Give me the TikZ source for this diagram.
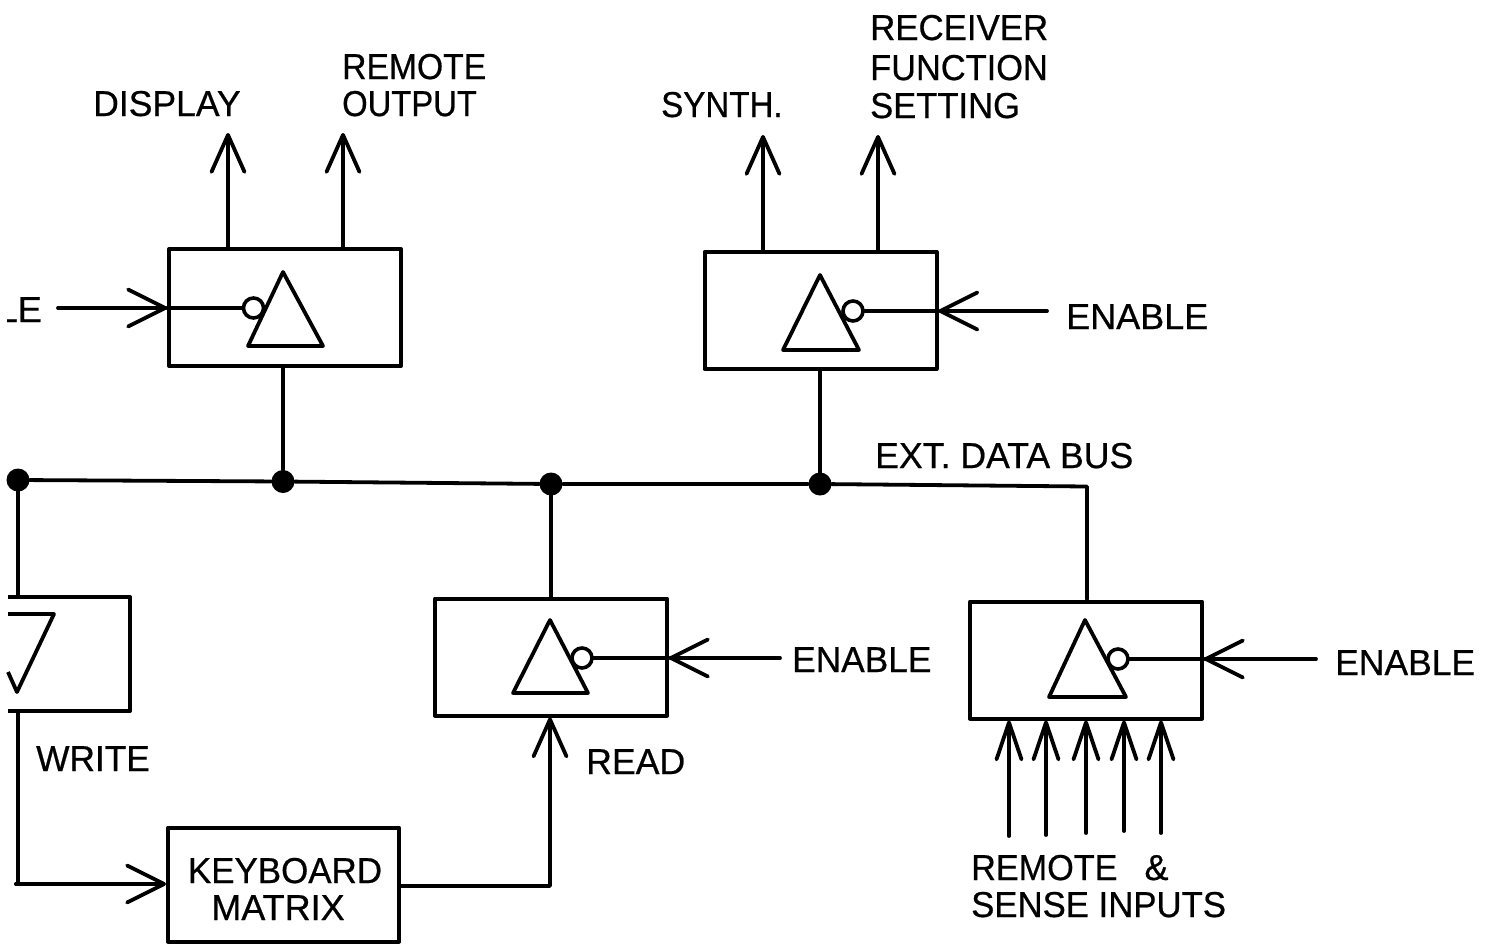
\documentclass[tikz,border=0pt]{standalone}
\usepackage{graphicx}
\usepackage{fontspec}
\setmainfont[FakeBold=0.6]{Liberation Sans}
\usetikzlibrary{arrows.meta}
\newcommand{\nw}[2]{\scalebox{#1}[1]{#2}}
\tikzset{
  x=1pt,y=-1pt,
  wire/.style={line width=3.8pt,line cap=round,line join=round},
  sig/.style={wire,-{Straight Barb[length=37pt,width=33pt,line width=3.8pt,round]}},
  sigh/.style={wire,-{Straight Barb[length=37pt,width=37pt,line width=3.8pt,round]}},
  sign/.style={wire,-{Straight Barb[length=37pt,width=25pt,line width=3.8pt,round]}},
  box/.style={draw,line width=4pt,line join=round,rectangle,inner sep=0pt,minimum width=232pt,minimum height=117pt},
  dot/.style={circle,fill=black,inner sep=0pt,minimum size=23pt},
  bubble/.style={circle,draw,line width=3.6pt,fill=white,inner sep=0pt,minimum size=20pt},
  tri/.style={line width=3.8pt,line join=round},
  lbl/.style={inner sep=0pt,anchor=base west,font=\fontsize{36}{40}\selectfont},
  clbl/.style={inner sep=0pt,anchor=base,font=\fontsize{36}{40}\selectfont}
}
\begin{document}
\begin{tikzpicture}
\useasboundingbox (0,0) rectangle (1497,943);
% boxes
\node[box] (boxA) at (285,307.5) {};
\node[box] (boxB) at (820.5,310.5) {};
\node[box] (boxC) at (551,657) {};
\node[box] (boxD) at (1086,660) {};
\node[box,minimum width=231pt,minimum height=114pt] (kbd) at (283.5,884.5) {};
\node[clbl] (kbdA) at (285,883) {\nw{.97}{KEYBOARD}};
\node[clbl] (kbdB) at (278,920) {MATRIX};
% cut-off box on the left edge
\coordinate (wTR) at (130,597);
\coordinate (wBR) at (130,711);
\draw[tri,line width=4pt] (8,597) -- (wTR) -- (wBR) -- (8,711);
\draw[tri] (8,614) -- (54,614) -- (17,692) -- (8,672);
% triangles
\draw[tri] (283,272) -- (323,346) -- (248,346) -- cycle;
\draw[tri] (820,275) -- (859,350) -- (783,350) -- cycle;
\draw[tri] (550,620) -- (588,693) -- (513,693) -- cycle;
\draw[tri] (1085,620) -- (1126,697) -- (1049,697) -- cycle;
% bubbles
\node[bubble] (bubA) at (253.5,308) {};
\node[bubble] (bubB) at (853,311) {};
\node[bubble] (bubC) at (582,658) {};
\node[bubble] (bubD) at (1118,659) {};
% bus
\node[dot] (j0) at (18,480) {};
\node[dot] (j1) at (283,481.5) {};
\node[dot] (j2) at (551,484) {};
\node[dot] (j3) at (820,484) {};
\coordinate (busEnd) at (1087,486.5);
\draw[wire] (j0) -- (j1) -- (j2) -- (j3) -- (busEnd) -- (busEnd |- boxD.north);
\coordinate (wTop) at (18,597);
\coordinate (wBot) at (18,711);
\coordinate (wCor) at (16,884);
\draw[wire] (j0) -- (wTop);
\draw[wire] (j1) -- (j1 |- boxA.south);
\draw[wire] (j2) -- (j2 |- boxC.north);
\draw[wire] (j3) -- (j3 |- boxB.south);
% outputs
\coordinate (o1) at (228,133);
\coordinate (o2) at (343,133);
\coordinate (o3) at (763,135);
\coordinate (o4) at (878,135);
\draw[sig] (o1 |- boxA.north) -- (o1);
\draw[sig] (o2 |- boxA.north) -- (o2);
\draw[sig] (o3 |- boxB.north) -- (o3);
\draw[sig] (o4 |- boxB.north) -- (o4);
% enables
\coordinate (enA) at (58,308);
\coordinate (enB) at (1047,311);
\coordinate (enC) at (780,658);
\coordinate (enD) at (1316,659);
\draw[sigh] (enA) -- (enA -| boxA.west);
\draw[wire] (enA -| boxA.west) -- (bubA);
\draw[sigh] (enB) -- (enB -| boxB.east);
\draw[wire] (enB -| boxB.east) -- (bubB);
\draw[sigh] (enC) -- (enC -| boxC.east);
\draw[wire] (enC -| boxC.east) -- (bubC);
\draw[sigh] (enD) -- (enD -| boxD.east);
\draw[wire] (enD -| boxD.east) -- (bubD);
% write / read
\draw[wire] (wBot) -- (wBot |- wCor) -- (wCor);
\draw[sigh] (wCor) -- (wCor -| kbd.west);
\coordinate (rdS) at (550,886);
\draw[sig] (rdS -| kbd.east) -- (rdS) -- (rdS |- boxC.south);
% remote inputs
\foreach \n/\x/\y in {a/1009/836,b/1046/835,c/1086/833,d/1124/831,e/1161/833}{
  \coordinate (in\n) at (\x,\y);
  \draw[sign] (in\n) -- (in\n |- boxD.south);
}
% labels
\node[lbl] (tDisp) at (93,116) {\nw{.987}{DISPLAY}};
\node[lbl] (tRem) at (342,79) {\nw{.935}{REMOTE}};
\node[lbl] (tOut) at (342,116) {\nw{.91}{OUTPUT}};
\node[lbl] (tSyn) at (661,117) {\nw{.92}{SYNTH.}};
\node[lbl] (tRec) at (870,40) {\nw{.967}{RECEIVER}};
\node[lbl] (tFun) at (870,80) {\nw{.955}{FUNCTION}};
\node[lbl] (tSet) at (870,118) {\nw{.96}{SETTING}};
\node[lbl] (tEnB) at (1066,329) {ENABLE};
\node[lbl] (tBus) at (875,468) {\nw{.99}{EXT. DATA BUS}};
\node[lbl] (tEnC) at (792,672) {\nw{.98}{ENABLE}};
\node[lbl] (tEnD) at (1335,675) {\nw{.985}{ENABLE}};
\node[lbl] (tRead) at (586,774) {\nw{.99}{READ}};
\node[lbl] (tWrite) at (36,771) {\nw{.98}{WRITE}};
\node[lbl] (tRS) at (971,880) {\nw{.95}{REMOTE}\hspace{27pt}\&};
\node[lbl] (tSI) at (971,917) {\nw{.965}{SENSE INPUTS}};
\begin{scope}
\clip (7,280) rectangle (60,340);
\node[inner sep=0pt,anchor=base east,font=\fontsize{36}{40}\selectfont] (tEnA) at (42,322) {LE};
\end{scope}
\end{tikzpicture}
\end{document}
